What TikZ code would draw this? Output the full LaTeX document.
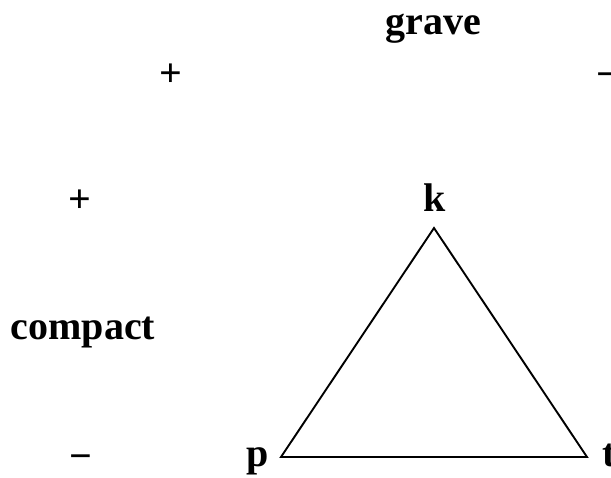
\documentclass[tikz,border=0pt]{standalone}
\usepackage{fontspec}
\setmainfont{Liberation Serif}
\begin{document}
\begin{tikzpicture}[x=1pt,y=-1pt,
  lbl/.style={anchor=base,inner sep=0pt,font=\fontsize{40}{44}\selectfont\bfseries},
  sgn/.style={anchor=base,inner sep=0pt,font=\fontsize{40}{44}\selectfont\bfseries},
  edge/.style={line width=1.9pt,line join=miter}]
\useasboundingbox (0,0) rectangle (611,478);
\node[lbl] (grave) at (433,35) {grave};
\node[lbl] (compact) at (83,340) {compact};
\node[sgn] (p1) at (171,87) {+};
\node[sgn] (p2) at (80,213) {+};
\node[sgn] (m1) at (608,88) {−};
\node[sgn] (m2) at (81,470) {−};
\node[lbl] (k) at (435,212) {k};
\node[lbl] (p) at (258,467) {p};
\node[lbl] (t) at (609,467) {t};
\coordinate (K) at (434,228);
\coordinate (P) at (281,457);
\coordinate (T) at (587,457);
\draw[edge] (K) -- (T) -- (P) -- cycle;
\end{tikzpicture}
\end{document}
